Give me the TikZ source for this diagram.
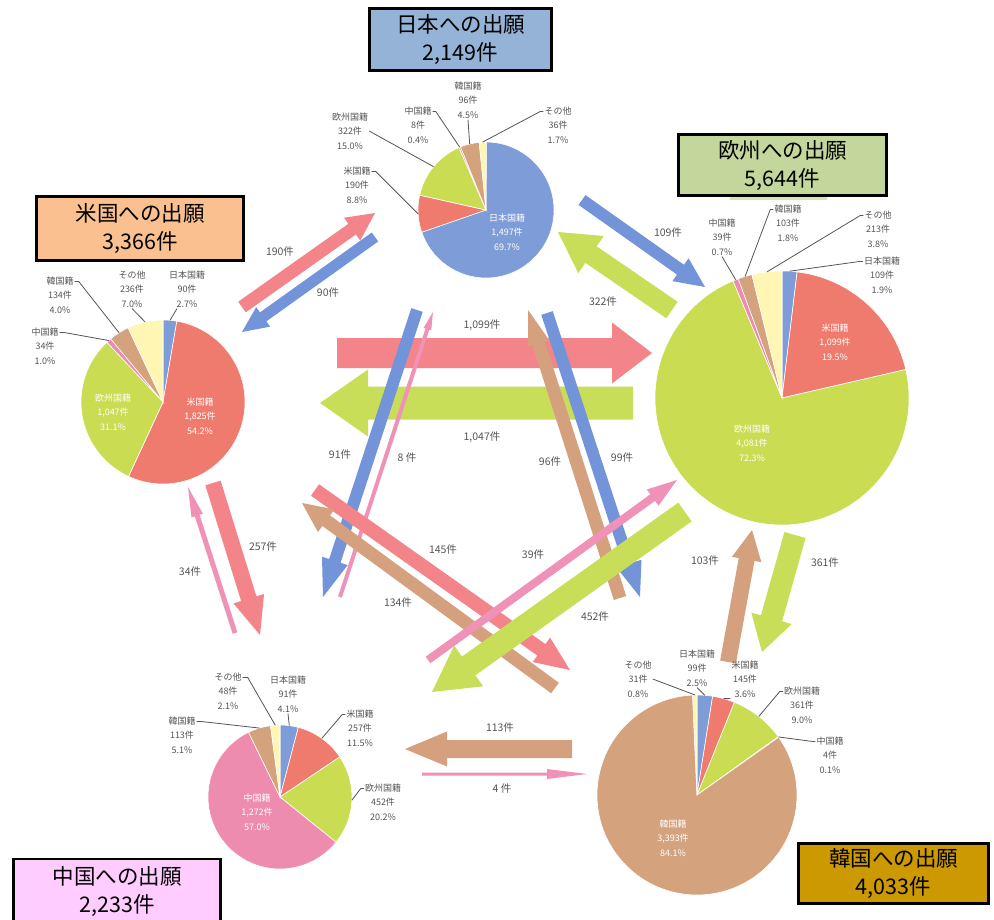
\documentclass[tikz,border=0pt]{standalone}
\usepackage{fontspec}
\newfontfamily\jp{Noto Sans CJK JP}
\usetikzlibrary{calc}

% slice colours
\definecolor{jpblue}{HTML}{7E9CD8}
\definecolor{usred}{HTML}{EE7B6E}
\definecolor{eugreen}{HTML}{CADC52}
\definecolor{cnpink}{HTML}{EE8CB0}
\definecolor{krtan}{HTML}{D5A27E}
\definecolor{othyel}{HTML}{FFF6B4}
% flow arrow colours
\definecolor{ablue}{HTML}{7394D8}
\definecolor{ared}{HTML}{F2848A}
\definecolor{agreen}{HTML}{C8DE58}
\definecolor{apink}{HTML}{F092B8}
\definecolor{atan}{HTML}{D4A07E}
% title box colours
\definecolor{jpboxc}{HTML}{95B3D7}
\definecolor{usboxc}{HTML}{FAC090}
\definecolor{euboxc}{HTML}{C3D69B}
\definecolor{cnboxc}{HTML}{FFCCFF}
\definecolor{krboxc}{HTML}{CC9900}
\definecolor{labgray}{HTML}{555555}

% pie: #1 centre, #2 radius, #3 list of percent/colour, clockwise from the top
\newcommand{\piechart}[3]{%
  \xdef\pieangle{-90}%
  \foreach \p/\c in {#3} {%
    \pgfmathsetmacro\pieend{\pieangle+3.6*\p}%
    \fill[\c,draw=white,line width=0.6pt] (#1) -- ++(\pieangle:#2)
      arc[start angle=\pieangle,end angle=\pieend,radius=#2] -- cycle;%
    \xdef\pieangle{\pieend}%
  }%
}
% block arrow: #1 colour, #2 tail, #3 tip, #4 half shaft width, #5 half head width, #6 head length
\newcommand{\blockarrow}[6]{%
  \coordinate (hb) at ($(#3)!#6!(#2)$);
  \fill[#1] ($(#2)!#4!90:(#3)$) -- ($(hb)!#4!-90:(#2)$) -- ($(hb)!#5!-90:(#2)$)
    -- (#3) -- ($(hb)!#5!90:(#2)$) -- ($(hb)!#4!90:(#2)$) -- ($(#2)!#4!-90:(#3)$) -- cycle;
}

\begin{document}
\begin{tikzpicture}[x=1pt,y=-1pt,
  lab/.style={font=\jp\fontsize{9}{14.5}\selectfont,text=labgray,align=center,inner sep=1pt},
  inlab/.style={lab,text=white},
  num/.style={font=\jp\fontsize{10.5}{12}\selectfont,text=labgray,inner sep=1pt},
  leader/.style={draw=labgray,line width=0.8pt},
  titlebox/.style={draw=black,line width=2.5pt,align=center,inner sep=0pt,
    font=\jp\fontsize{21.5}{28}\selectfont}]
\useasboundingbox (0,0) rectangle (994,919);
\fill[white] (0,0) rectangle (994,919);

% pie centres
\coordinate (jp) at (486,210);
\coordinate (us) at (163,402);
\coordinate (eu) at (782,398);
\coordinate (cn) at (280,797);
\coordinate (kr) at (697,795);

% arrow end points
\coordinate (f190s) at (242,307); \coordinate (f190e) at (375,213);
\coordinate (f90s) at (375,237);  \coordinate (f90e) at (242,332);
\coordinate (f1099s) at (337,353); \coordinate (f1099e) at (652,353);
\coordinate (f1047s) at (633,403); \coordinate (f1047e) at (320,403);
\coordinate (f109s) at (582,200); \coordinate (f109e) at (705,287);
\coordinate (f322s) at (672,310); \coordinate (f322e) at (558,232);
\coordinate (f91s) at (417,310); \coordinate (f91e) at (323,597);
\coordinate (f8s) at (340,597); \coordinate (f8e) at (433,312);
\coordinate (f452s) at (685,512); \coordinate (f452e) at (432,692);
\coordinate (f39s) at (428,660); \coordinate (f39e) at (677,480);
\coordinate (f145s) at (315,490); \coordinate (f145e) at (570,670);
\coordinate (f134s) at (555,688); \coordinate (f134e) at (302,503);
\coordinate (f96s) at (620,598); \coordinate (f96e) at (528,310);
\coordinate (f99s) at (547,313); \coordinate (f99e) at (640,597);
\coordinate (f257s) at (213,483); \coordinate (f257e) at (260,635);
\coordinate (f34s) at (235,633); \coordinate (f34e) at (188,487);
\coordinate (f103s) at (728,662); \coordinate (f103e) at (752,530);
\coordinate (f361s) at (795,535); \coordinate (f361e) at (762,652);
\coordinate (f113s) at (572,749); \coordinate (f113e) at (405,749);
\coordinate (f4s) at (422,774); \coordinate (f4e) at (587,774);

% flows between the five offices
\blockarrow{agreen}{f1047s}{f1047e}{16.5pt}{33.5pt}{48pt}
\blockarrow{ared}{f1099s}{f1099e}{15pt}{30.5pt}{40pt}
\blockarrow{ared}{f190s}{f190e}{6.5pt}{14pt}{28pt}
\blockarrow{ablue}{f90s}{f90e}{5.5pt}{12pt}{26pt}
\blockarrow{ablue}{f109s}{f109e}{6pt}{14pt}{30pt}
\blockarrow{agreen}{f322s}{f322e}{10pt}{22.5pt}{40pt}
\blockarrow{ared}{f257s}{f257e}{8pt}{16pt}{38pt}
\blockarrow{apink}{f34s}{f34e}{2.5pt}{6pt}{30pt}
\blockarrow{ablue}{f91s}{f91e}{6pt}{13.5pt}{38pt}
\blockarrow{apink}{f8s}{f8e}{2pt}{4pt}{18pt}
\blockarrow{ared}{f145s}{f145e}{7pt}{15pt}{35pt}
\blockarrow{atan}{f134s}{f134e}{6.5pt}{14pt}{30pt}
\blockarrow{atan}{f96s}{f96e}{6.5pt}{11pt}{35pt}
\blockarrow{ablue}{f99s}{f99e}{6pt}{13pt}{35pt}
\blockarrow{apink}{f39s}{f39e}{4pt}{10pt}{30pt}
\blockarrow{agreen}{f452s}{f452e}{11.5pt}{25pt}{45pt}
\blockarrow{atan}{f103s}{f103e}{8pt}{15pt}{30pt}
\blockarrow{agreen}{f361s}{f361e}{11pt}{21pt}{35pt}
\blockarrow{atan}{f113s}{f113e}{9pt}{17.5pt}{42pt}
\blockarrow{apink}{f4s}{f4e}{1.5pt}{5pt}{40pt}

% flow counts
\node[num] (l190) at (280,252) {190件};
\node[num] (l90) at (328,293) {90件};
\node[num] (l1099) at (482,325) {1,099件};
\node[num] (l1047) at (482,437) {1,047件};
\node[num] (l109) at (668,233) {109件};
\node[num] (l322) at (603,302) {322件};
\node[num] (l91) at (340,455) {91件};
\node[num] (l8) at (407,458) {8 件};
\node[num] (l96) at (550,462) {96件};
\node[num] (l99) at (622,458) {99件};
\node[num] (l145) at (443,550) {145件};
\node[num] (l39) at (533,555) {39件};
\node[num] (l134) at (398,603) {134件};
\node[num] (l452) at (595,617) {452件};
\node[num] (l257) at (263,547) {257件};
\node[num] (l34) at (190,572) {34件};
\node[num] (l103) at (705,561) {103件};
\node[num] (l361) at (825,563) {361件};
\node[num] (l113) at (500,728) {113件};
\node[num] (l4) at (502,789) {4 件};

% pies: Japan, US, Europe, China, Korea nationality shares
\piechart{jp}{68}{69.7/jpblue,8.8/usred,15.0/eugreen,0.4/cnpink,4.5/krtan,1.7/othyel}
\piechart{us}{82}{2.7/jpblue,54.2/usred,31.1/eugreen,1.0/cnpink,4.0/krtan,7.0/othyel}
\piechart{eu}{127}{1.9/jpblue,19.5/usred,72.3/eugreen,0.7/cnpink,1.8/krtan,3.8/othyel}
\piechart{cn}{72}{4.1/jpblue,11.5/usred,20.2/eugreen,57.0/cnpink,5.1/krtan,2.1/othyel}
\piechart{kr}{100}{2.5/jpblue,3.6/usred,9.0/eugreen,0.1/cnpink,84.1/krtan,0.7/othyel}

% Japan pie labels
\node[lab] (jpUS) at (357,185) {米国籍\\190件\\8.8\%};
\node[lab] (jpEU) at (350,131) {欧州国籍\\322件\\15.0\%};
\node[lab] (jpCN) at (418,125) {中国籍\\8件\\0.4\%};
\node[lab] (jpKR) at (468,100) {韓国籍\\96件\\4.5\%};
\node[lab] (jpOT) at (558,125) {その他\\36件\\1.7\%};
\node[inlab] (jpJP) at (507,232) {日本国籍\\1,497件\\69.7\%};
\draw[leader] ([yshift=-6pt]jpUS.north east) -- ++(4,0) -- ($(jp)+(176.8:68)$);
\draw[leader] (jpEU.east) -- ($(jp)+(219.6:68)$);
\draw[leader] ([yshift=-6pt]jpCN.north east) -- ++(3,0) -- ($(jp)+(247.3:68)$);
\draw[leader] (jpKR.south) -- ($(jp)+(256.1:68)$);
\draw[leader] ([yshift=-6pt]jpOT.north west) -- ++(-3,0) -- ($(jp)+(267.1:68)$);

% US pie labels
\node[lab] (usOT) at (132,289) {その他\\236件\\7.0\%};
\node[lab] (usJP) at (187,289) {日本国籍\\90件\\2.7\%};
\node[lab] (usKR) at (60,295) {韓国籍\\134件\\4.0\%};
\node[lab] (usCN) at (45,346) {中国籍\\34件\\1.0\%};
\node[inlab] (usEU) at (113,412) {欧州国籍\\1,047件\\31.1\%};
\node[inlab] (usUS) at (200,416) {米国籍\\1,825件\\54.2\%};
\draw[leader] (usOT.south) -- ($(us)+(257.4:82)$);
\draw[leader] ([xshift=-10pt]usJP.south) -- ($(us)+(-85.1:82)$);
\draw[leader] ([yshift=-6pt]usKR.north east) -- ++(4,0) -- ($(us)+(237.6:82)$);
\draw[leader] ([yshift=-6pt]usCN.north east) -- ++(4,0) -- ($(us)+(228.6:82)$);

% Europe pie labels
\node[lab] (euCN) at (722,237) {中国籍\\39件\\0.7\%};
\node[lab] (euKR) at (788,223) {韓国籍\\103件\\1.8\%};
\node[lab] (euOT) at (878,229) {その他\\213件\\3.8\%};
\node[lab] (euJP) at (882,275) {日本国籍\\109件\\1.9\%};
\node[inlab] (euUS) at (835,342) {米国籍\\1,099件\\19.5\%};
\node[inlab] (euEU) at (752,443) {欧州国籍\\4,081件\\72.3\%};
\draw[leader] (euCN.south) -- ($(eu)+(248.6:127)$);
\draw[leader] ([yshift=-6pt]euKR.north west) -- ++(-3,0) -- ($(eu)+(253.1:127)$);
\draw[leader] ([yshift=-6pt]euOT.north west) -- ++(-3,0) -- ($(eu)+(263.2:127)$);
\draw[leader] ([yshift=-6pt]euJP.north west) -- ++(-3,0) -- ($(eu)+(-86.6:127)$);

% China pie labels
\node[lab] (cnOT) at (228,691) {その他\\48件\\2.1\%};
\node[lab] (cnJP) at (288,694) {日本国籍\\91件\\4.1\%};
\node[lab] (cnKR) at (182,735) {韓国籍\\113件\\5.1\%};
\node[lab] (cnUS) at (360,728) {米国籍\\257件\\11.5\%};
\node[lab] (cnEU) at (383,802) {欧州国籍\\452件\\20.2\%};
\node[inlab] (cnCN) at (257,812) {中国籍\\1,272件\\57.0\%};
\draw[leader] ([yshift=-6pt]cnOT.north east) -- ++(5,0) -- ($(cn)+(266.2:72)$);
\draw[leader] (cnJP.south) -- ($(cn)+(-82.6:72)$);
\draw[leader] ([yshift=-6pt]cnKR.north east) -- ++(4,0) -- ($(cn)+(253.3:72)$);
\draw[leader] ([yshift=-6pt]cnUS.north west) -- ++(-3,0) -- ($(cn)+(-54.5:72)$);
\draw[leader] ([yshift=-6pt]cnEU.north west) -- ++(-3,0) -- ($(cn)+(2.5:72)$);

% Korea pie labels
\node[lab] (krOT) at (638,679) {その他\\31件\\0.8\%};
\node[lab] (krJP) at (697,668) {日本国籍\\99件\\2.5\%};
\node[lab] (krUS) at (745,679) {米国籍\\145件\\3.6\%};
\node[lab] (krEU) at (802,705) {欧州国籍\\361件\\9.0\%};
\node[lab] (krCN) at (830,755) {中国籍\\4件\\0.1\%};
\node[inlab] (krKR) at (673,838) {韓国籍\\3,393件\\84.1\%};
\draw[leader] (krOT.east) -- ($(kr)+(268.9:100)$);
\draw[leader] (krJP.south) -- ($(kr)+(-85.5:100)$);
\draw[leader] (krUS.south west) -- ($(kr)+(-74.5:100)$);
\draw[leader] ([yshift=-6pt]krEU.north west) -- ++(-3,0) -- ($(kr)+(-51.8:100)$);
\draw[leader] ([yshift=-6pt]krCN.north west) -- ++(-3,0) -- ($(kr)+(-35.5:100)$);

% strip under the Europe title
\fill[euboxc!70!white] (730,189) rectangle (827,200);

% office title boxes
\node[titlebox,fill=jpboxc,minimum width=182pt,minimum height=62pt] (jpbox) at (460.5,39.5) {日本への出願\\2,149件};
\node[titlebox,fill=usboxc,minimum width=207pt,minimum height=64pt] (usbox) at (140,228.5) {米国への出願\\3,366件};
\node[titlebox,fill=euboxc,minimum width=208pt,minimum height=61pt] (eubox) at (782.5,165) {欧州への出願\\5,644件};
\node[titlebox,fill=cnboxc,minimum width=207pt,minimum height=66pt] (cnbox) at (117,892) {中国への出願\\2,233件};
\node[titlebox,fill=krboxc,minimum width=190pt,minimum height=60pt] (krbox) at (893.5,873.5) {韓国への出願\\4,033件};
\end{tikzpicture}
\end{document}
